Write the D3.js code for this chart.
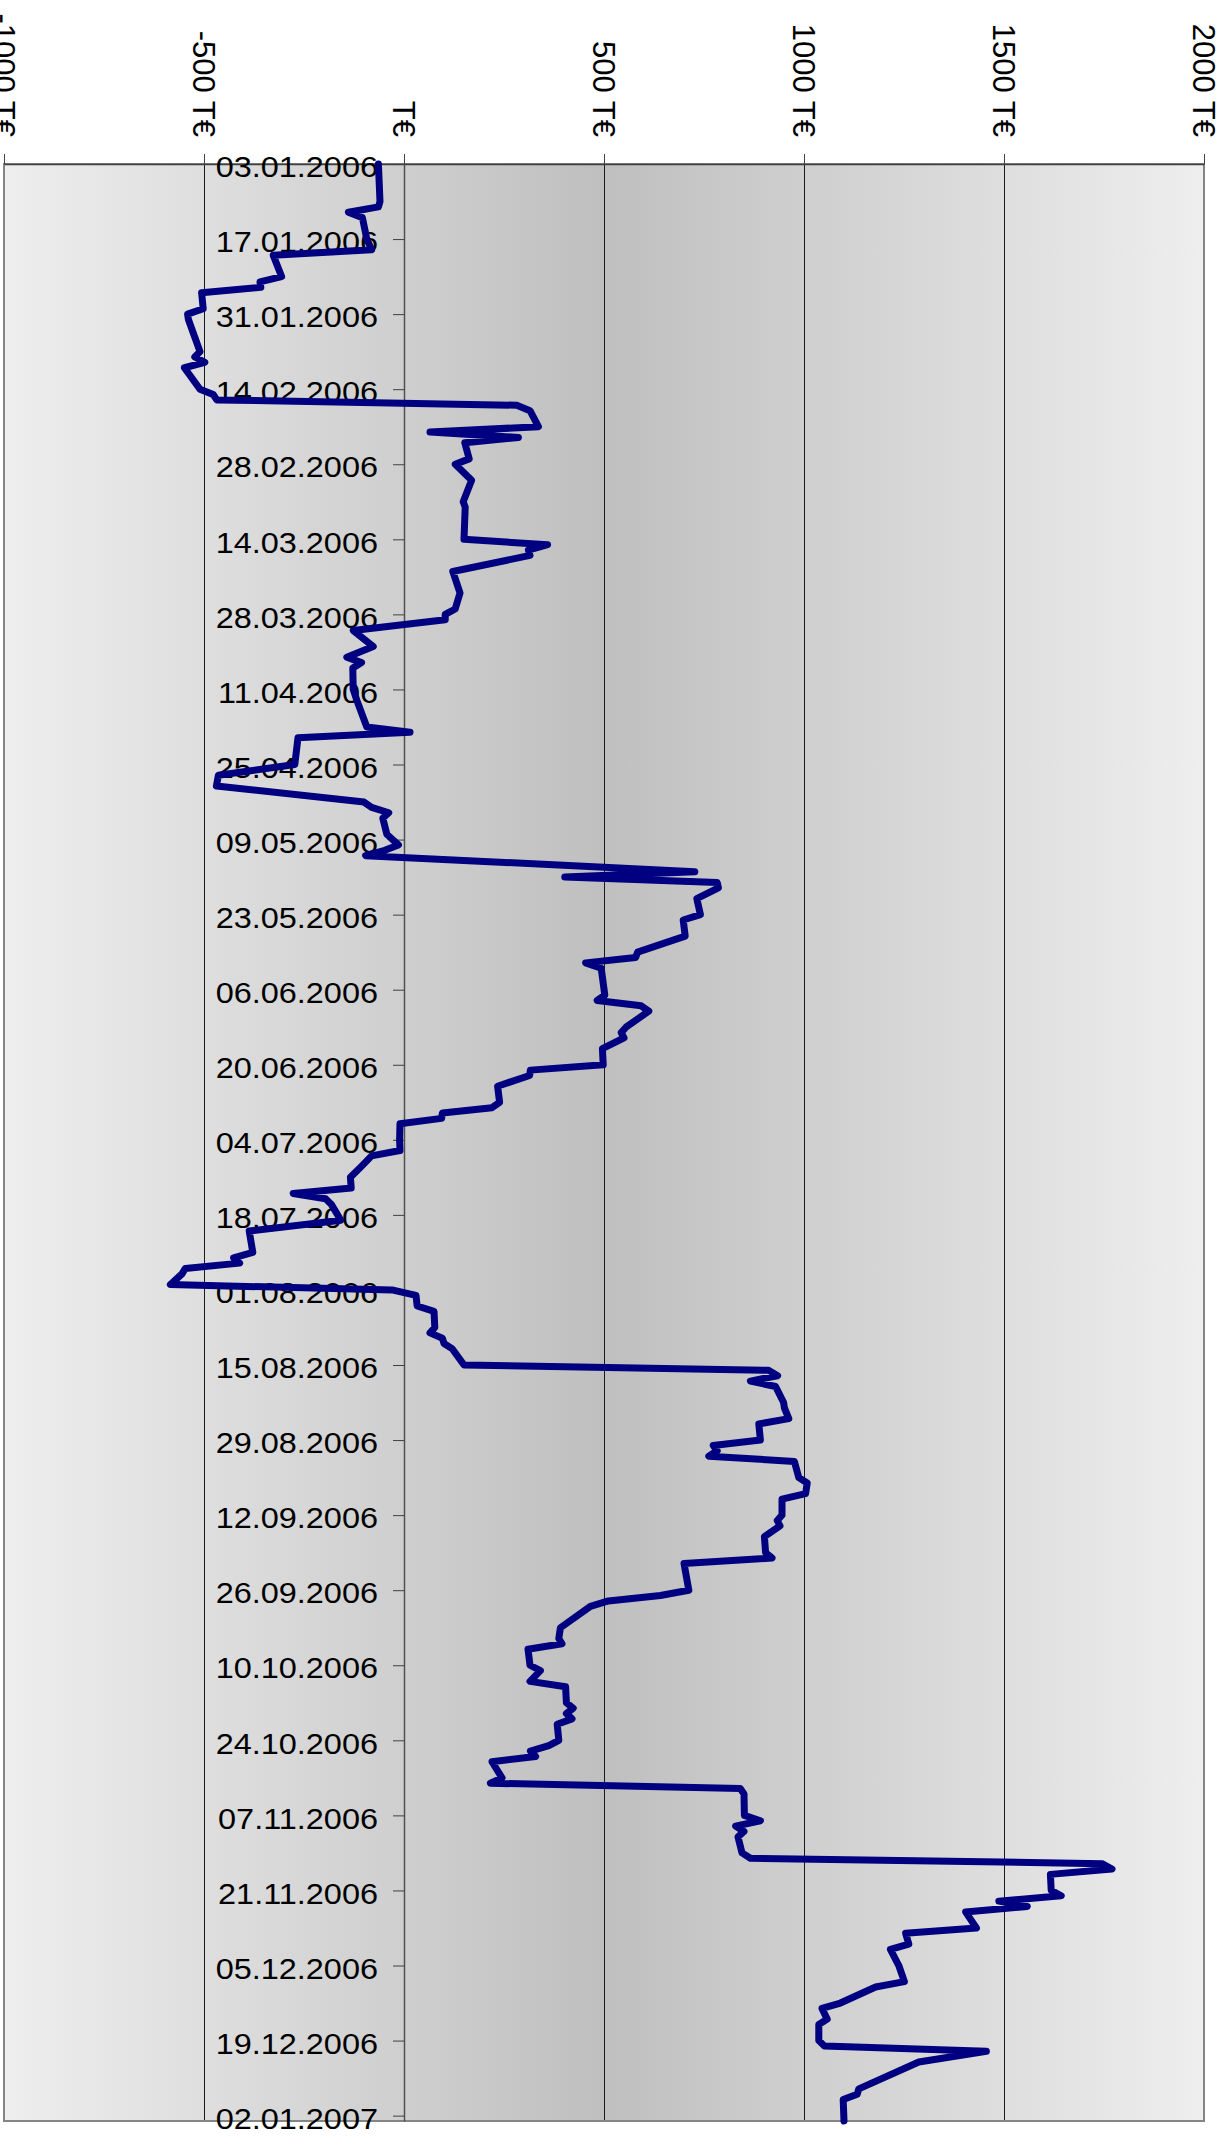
<!DOCTYPE html>
<html>
<head>
<meta charset="utf-8">
<script src="https://cdn.jsdelivr.net/npm/d3@7/dist/d3.min.js"></script>
<style>
  html, body { margin: 0; padding: 0; background: #ffffff; }
  svg { display: block; }
</style>
</head>
<body>
<svg id="chart" width="1228" height="2145"></svg>
<script>
// ---- data (date, value in T€) ----
const dates = [
  "03.01.2006","10.01.2006","11.01.2006","12.01.2006","13.01.2006","17.01.2006","19.01.2006","20.01.2006",
  "24.01.2006","25.01.2006","26.01.2006","27.01.2006","30.01.2006","31.01.2006","01.02.2006","07.02.2006",
  "08.02.2006","09.02.2006","10.02.2006","14.02.2006","15.02.2006","16.02.2006","17.02.2006","18.02.2006",
  "21.02.2006","22.02.2006","23.02.2006","24.02.2006","27.02.2006","28.02.2006","03.03.2006","07.03.2006",
  "08.03.2006","14.03.2006","15.03.2006","16.03.2006","17.03.2006","20.03.2006","24.03.2006","27.03.2006",
  "28.03.2006","29.03.2006","31.03.2006","03.04.2006","05.04.2006","06.04.2006","07.04.2006","11.04.2006",
  "13.04.2006","18.04.2006","19.04.2006","20.04.2006","25.04.2006","27.04.2006","29.04.2006","02.05.2006",
  "03.05.2006","04.05.2006","05.05.2006","08.05.2006","10.05.2006","11.05.2006","12.05.2006","15.05.2006",
  "16.05.2006","17.05.2006","18.05.2006","20.05.2006","23.05.2006","24.05.2006","27.05.2006","30.05.2006",
  "31.05.2006","01.06.2006","02.06.2006","07.06.2006","08.06.2006","09.06.2006","10.06.2006","13.06.2006",
  "14.06.2006","15.06.2006","17.06.2006","20.06.2006","21.06.2006","22.06.2006","24.06.2006","27.06.2006",
  "28.06.2006","29.06.2006","30.06.2006","01.07.2006","04.07.2006","06.07.2006","07.07.2006","09.07.2006",
  "11.07.2006","13.07.2006","14.07.2006","15.07.2006","16.07.2006","19.07.2006","21.07.2006","25.07.2006",
  "26.07.2006","27.07.2006","28.07.2006","29.07.2006","31.07.2006","01.08.2006","02.08.2006","04.08.2006",
  "05.08.2006","08.08.2006","09.08.2006","10.08.2006","11.08.2006","12.08.2006","15.08.2006","16.08.2006",
  "17.08.2006","18.08.2006","19.08.2006","22.08.2006","23.08.2006","25.08.2006","26.08.2006","29.08.2006",
  "30.08.2006","31.08.2006","01.09.2006","02.09.2006","05.09.2006","06.09.2006","08.09.2006","09.09.2006",
  "12.09.2006","13.09.2006","14.09.2006","16.09.2006","19.09.2006","20.09.2006","21.09.2006","26.09.2006",
  "27.09.2006","28.09.2006","29.09.2006","03.10.2006","05.10.2006","06.10.2006","07.10.2006","10.10.2006",
  "11.10.2006","13.10.2006","14.10.2006","17.10.2006","18.10.2006","19.10.2006","20.10.2006","21.10.2006",
  "24.10.2006","25.10.2006","26.10.2006","27.10.2006","28.10.2006","31.10.2006","01.11.2006","02.11.2006",
  "03.11.2006","07.11.2006","08.11.2006","09.11.2006","10.11.2006","11.11.2006","14.11.2006","15.11.2006",
  "16.11.2006","17.11.2006","18.11.2006","21.11.2006","22.11.2006","23.11.2006","24.11.2006","25.11.2006",
  "28.11.2006","29.11.2006","01.12.2006","02.12.2006","05.12.2006","08.12.2006","09.12.2006","12.12.2006",
  "13.12.2006","15.12.2006","16.12.2006","19.12.2006","20.12.2006","21.12.2006","23.12.2006","28.12.2006",
  "29.12.2006","30.12.2006","03.01.2007"
];
const values = [
  -64,-60,-64,-139,-104,-93,-81,-327,
  -306,-360,-358,-506,-502,-541,-539,-510,
  -523,-498,-549,-510,-477,-468,282,315,
  336,65,286,152,163,128,169,148,
  153,150,359,311,315,122,140,128,
  103,103,-127,-77,-143,-106,-128,-127,
  -118,-93,15,-265,-273,-464,-469,-100,
  -81,-38,-53,-43,-14,-48,-96,727,
  402,783,786,732,741,698,703,584,
  579,454,493,502,483,593,612,555,
  543,550,496,498,316,314,234,239,
  220,96,94,-10,-11,-10,-81,-107,
  -134,-132,-277,-196,-182,-158,-387,-378,
  -426,-411,-547,-555,-584,-30,30,33,
  75,77,65,96,100,121,150,912,
  934,866,929,949,951,962,887,891,
  773,783,762,976,987,1008,1004,945,
  945,933,940,901,904,920,700,712,
  641,511,466,391,387,395,310,315,
  341,315,404,406,423,406,420,383,
  387,362,316,329,220,245,216,841,
  850,851,891,829,850,835,845,866,
  1745,1770,1616,1618,1643,1487,1558,1404,
  1431,1254,1262,1216,1237,1251,1179,1091,
  1045,1058,1037,1037,1051,1456,1287,1137,
  1133,1098,1100
];
const dateTicks = [
  "03.01.2006","17.01.2006","31.01.2006","14.02.2006","28.02.2006","14.03.2006","28.03.2006",
  "11.04.2006","25.04.2006","09.05.2006","23.05.2006","06.06.2006","20.06.2006","04.07.2006",
  "18.07.2006","01.08.2006","15.08.2006","29.08.2006","12.09.2006","26.09.2006","10.10.2006",
  "24.10.2006","07.11.2006","21.11.2006","05.12.2006","19.12.2006","02.01.2007"
];
const valueTicks = [-1000, -500, 0, 500, 1000, 1500, 2000];
const valueTickLabels = ["-1000 T€", "-500 T€", "T€", "500 T€", "1000 T€", "1500 T€", "2000 T€"];
const dateDomain = ["03.01.2006", "03.01.2007"];

// ---- layout ----
const W = 1228, H = 2145;
const plot = { left: 4, right: 1204, top: 164, bottom: 2121 };
const parse = d3.utcParse("%d.%m.%Y");

const svg = d3.select("#chart");

const x = d3.scaleLinear().domain([-1000, 2000]).range([plot.left, plot.right]);
const y = d3.scaleUtc().domain(dateDomain.map(parse)).range([plot.top, plot.bottom]);

// background gradient (light at edges, darker in the middle)
const defs = svg.append("defs");
const grad = defs.append("linearGradient").attr("id", "bg")
  .attr("x1", "0").attr("y1", "0").attr("x2", "1").attr("y2", "0");
grad.append("stop").attr("offset", "0%").attr("stop-color", "#eeeeee");
grad.append("stop").attr("offset", "50%").attr("stop-color", "#bfbfbf");
grad.append("stop").attr("offset", "100%").attr("stop-color", "#eeeeee");

svg.append("rect")
  .attr("x", plot.left).attr("y", plot.top)
  .attr("width", plot.right - plot.left).attr("height", plot.bottom - plot.top)
  .attr("fill", "url(#bg)");

// vertical gridlines
svg.append("g").selectAll("line")
  .data(valueTicks.filter(v => v !== 0 && v !== -1000 && v !== 2000))
  .join("line")
  .attr("x1", d => Math.round(x(d)) + 0.5).attr("x2", d => Math.round(x(d)) + 0.5)
  .attr("y1", plot.top).attr("y2", plot.bottom)
  .attr("stroke", "#1a1a1a").attr("stroke-width", 1);

// plot frame
svg.append("rect")
  .attr("x", plot.left).attr("y", plot.top)
  .attr("width", plot.right - plot.left).attr("height", plot.bottom - plot.top)
  .attr("fill", "none").attr("stroke", "#858585").attr("stroke-width", 2);

// value axis on top
const xAxis = d3.axisTop(x)
  .tickValues(valueTicks)
  .tickSize(10)
  .tickSizeOuter(0)
  .tickFormat((d, i) => valueTickLabels[i]);
const gx = svg.append("g").attr("transform", `translate(0,${plot.top})`).call(xAxis);
gx.select(".domain").attr("stroke", "#404040").attr("stroke-width", 1.5);
gx.selectAll(".tick line").attr("stroke", "#404040");
gx.selectAll(".tick text")
  .attr("fill", "#000")
  .style("font-family", "'Liberation Sans', Arial, sans-serif")
  .style("font-size", "31px")
  .attr("text-anchor", "end")
  .attr("x", 0).attr("y", 0).attr("dy", "0.36em")
  .attr("transform", `translate(0,${137 - plot.top}) rotate(90)`);

// date axis along the zero line
const yAxis = d3.axisLeft(y)
  .tickValues(dateTicks.map(parse))
  .tickSize(11)
  .tickSizeOuter(0)
  .tickFormat(d3.utcFormat("%d.%m.%Y"));
const gy = svg.append("g").attr("transform", `translate(${x(0)},0)`).call(yAxis);
gy.select(".domain").attr("stroke", "#505050").attr("stroke-width", 1.5);
gy.selectAll(".tick line").attr("stroke", "#404040");
gy.selectAll(".tick text")
  .attr("fill", "#000")
  .style("font-family", "'Liberation Sans', Arial, sans-serif")
  .style("font-size", "29.5px")
  .attr("text-anchor", "end")
  .attr("x", 0).attr("dy", null)
  .attr("transform", "translate(-26,12.7) scale(1.1,1)");

// the series
const series = dates.map((d, i) => ({ date: parse(d), value: values[i] }));
const line = d3.line().x(d => x(d.value)).y(d => y(d.date));
svg.append("path")
  .datum(series)
  .attr("d", line)
  .attr("fill", "none")
  .attr("stroke", "#000080")
  .attr("stroke-width", 7)
  .attr("stroke-linejoin", "round")
  .attr("stroke-linecap", "round");
</script>
</body>
</html>
